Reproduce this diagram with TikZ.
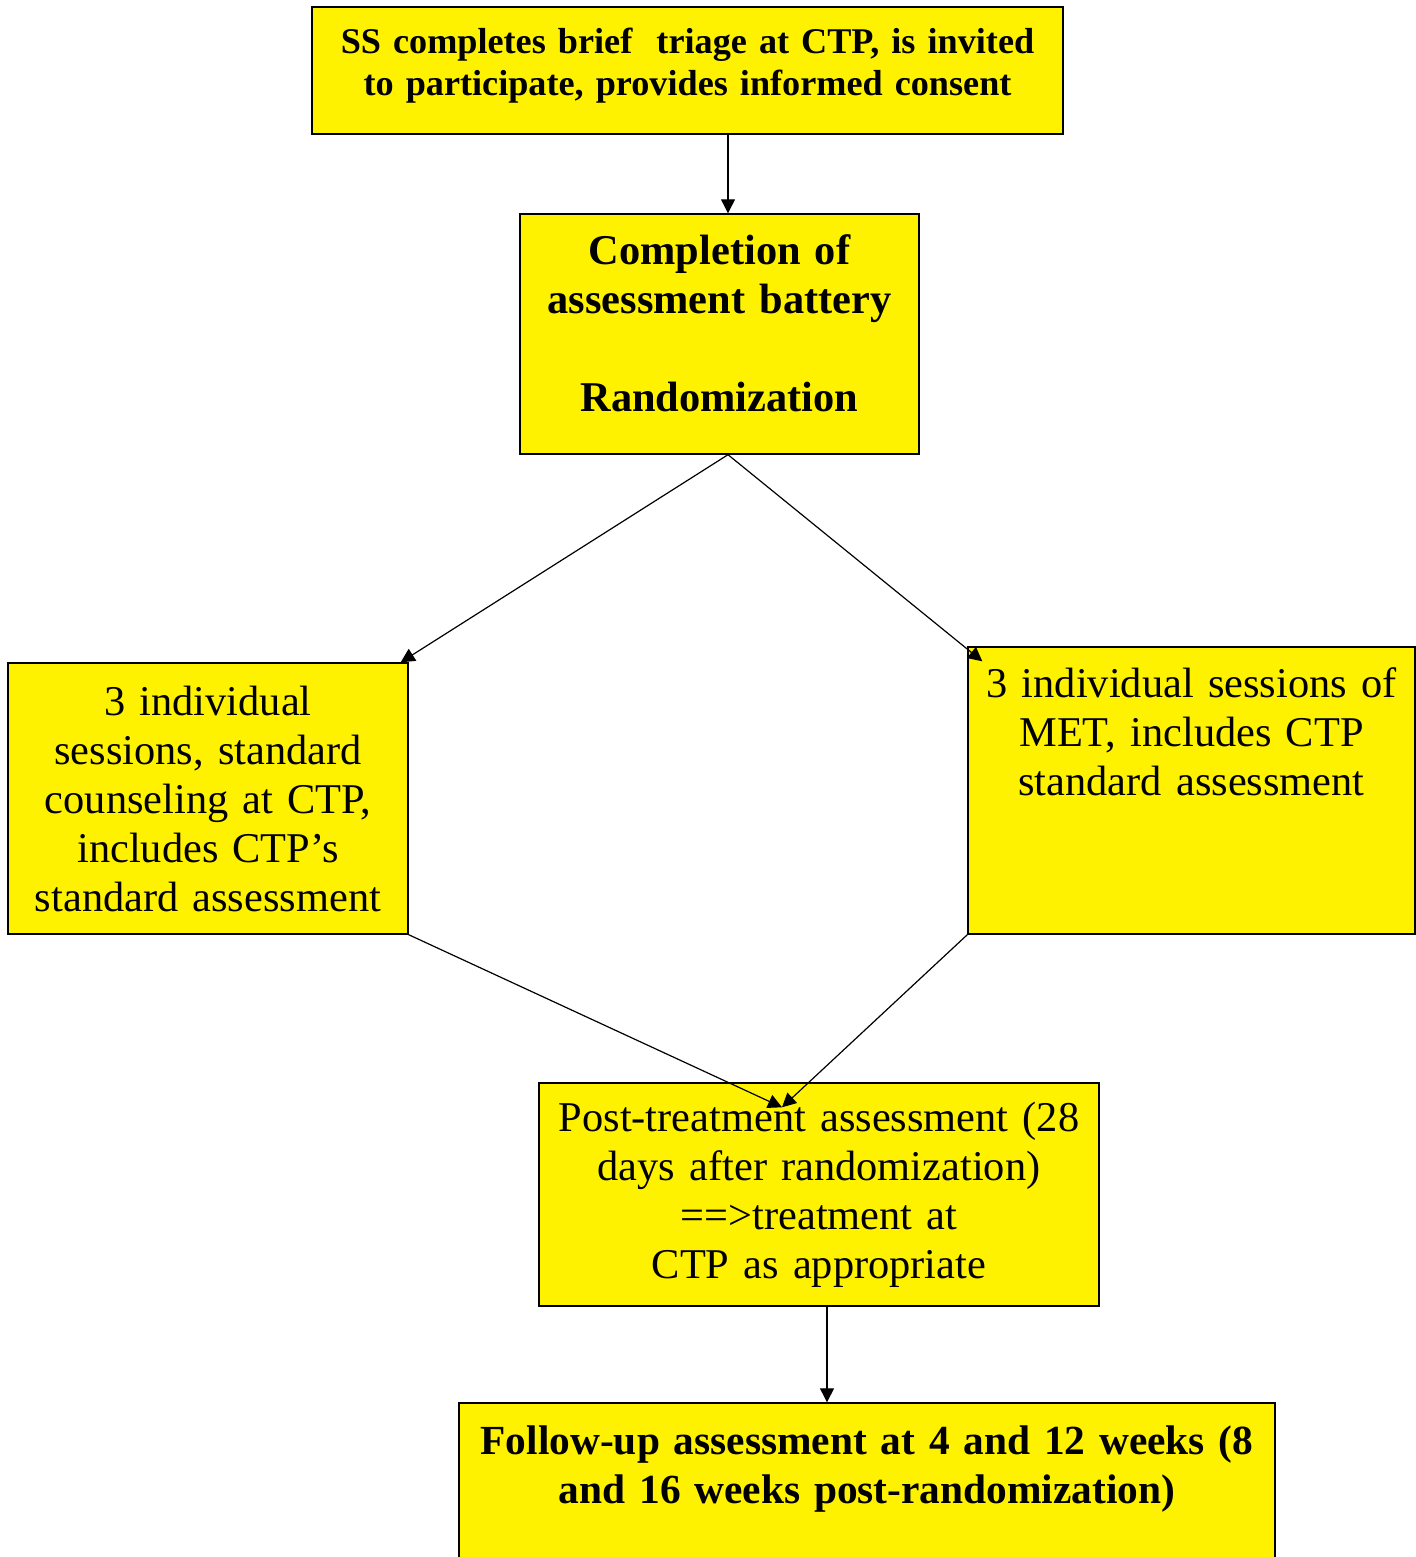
\documentclass[tikz,border=0pt]{standalone}
\usepackage{fontspec}
\setmainfont{Liberation Serif}
\usetikzlibrary{arrows.meta}

\begin{document}
\begin{tikzpicture}[x=0.5pt,y=-0.5pt,
    box/.style={draw, line width=0.7pt, fill=yellow, inner sep=0pt, align=center,
      font=\fontsize{21.2}{24.5}\selectfont},
    flow/.style={-{Triangle[length=7pt,width=7pt]}, line width=0.6pt}]
  \useasboundingbox (0,0) rectangle (1416,1557);

  \node[box, text width=375.5pt, minimum height=63.5pt, text depth=30pt,
    font=\fontsize{18.1}{21}\selectfont\bfseries]
    (consent) at (687.5,70.5) {SS completes brief\ \ triage at CTP, is invited\\to participate, provides informed consent};
  \node[box, text width=199.5pt, minimum height=120pt, text depth=84pt,
    font=\fontsize{21.2}{24.5}\selectfont\bfseries]
    (rand) at (719.5,334) {Completion of\\assessment battery\\[24.5pt]Randomization};
  \node[box, text width=200pt, minimum height=135.5pt]
    (usual) at (208,798.5) {3 individual\\sessions, standard\\counseling at CTP,\\includes CTP’s\\standard assessment};
  \node[box, text width=223.5pt, minimum height=143.5pt, text depth=107.5pt]
    (met) at (1191.5,790.5) {3 individual sessions of\\MET, includes CTP\\standard assessment};
  \node[box, text width=280pt, minimum height=111.5pt]
    (post) at (819,1194.5) {Post-treatment assessment (28\\days after randomization)\\==>treatment at\\CTP as appropriate};
  \node[box, text width=408pt, minimum height=111pt, font=\fontsize{20.7}{24.5}\selectfont\bfseries]
    (followup) at (867,1514) {Follow-up assessment at 4 and 12 weeks (8\\and 16 weeks post-randomization)\\~\\~};

  \coordinate (c1) at (728,0);
  \coordinate (c2) at (827,0);
  \coordinate (meet) at ([xshift=-18.5pt,yshift=-12.5pt]post.north);

  \draw[flow] (consent.south -| c1) -- (rand.north -| c1);
  \draw[flow] (rand.south -| c1) -- ([xshift=-4pt]usual.north east);
  \draw[flow] (rand.south -| c1) -- ([xshift=7.5pt,yshift=-7.5pt]met.north west);
  \draw[flow] (usual.south east) -- (meet);
  \draw[flow] (met.south west) -- (meet);
  \draw[flow] (post.south -| c2) -- (followup.north -| c2);
\end{tikzpicture}
\end{document}
